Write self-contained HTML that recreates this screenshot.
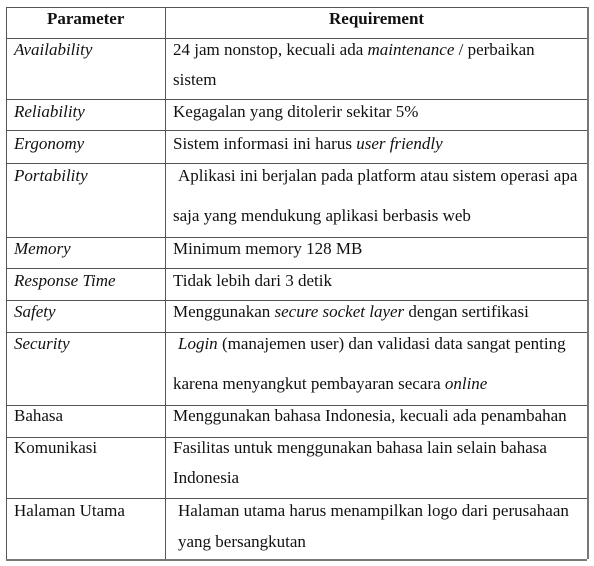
<!DOCTYPE html>
<html><head><meta charset="utf-8"><style>
body{margin:0;width:594px;height:566px;background:#fff;position:relative;overflow:hidden;font-family:"Liberation Serif",serif;font-size:17px;color:#111}
.h{position:absolute;background:#555;height:1px;left:6px;width:581px}
.v{position:absolute;background:#555;width:1px;top:7px;height:552px}
.t{position:absolute;white-space:nowrap;line-height:20px}
b{font-weight:bold;font-size:17px}
</style></head><body>
<div class="h" style="top:7px"></div>
<div class="h" style="top:38px"></div>
<div class="h" style="top:99px"></div>
<div class="h" style="top:130px"></div>
<div class="h" style="top:163px"></div>
<div class="h" style="top:237px"></div>
<div class="h" style="top:268px"></div>
<div class="h" style="top:300px"></div>
<div class="h" style="top:332px"></div>
<div class="h" style="top:405px"></div>
<div class="h" style="top:437px"></div>
<div class="h" style="top:498px"></div>
<div class="h" style="top:559px;height:2px;background:#777"></div>
<div class="v" style="left:6px"></div>
<div class="v" style="left:165px"></div>
<div class="v" style="left:587px;width:2px;background:#777"></div>

<div class="t" style="left:47px;top:9px"><b>Parameter</b></div>
<div class="t" style="left:329px;top:9px"><b>Requirement</b></div>

<div class="t" style="left:14px;top:40px"><i>Availability</i></div>
<div class="t" style="left:173px;top:40px">24 jam nonstop, kecuali ada <i>maintenance</i> / perbaikan</div>
<div class="t" style="left:173px;top:70px">sistem</div>

<div class="t" style="left:14px;top:102px"><i>Reliability</i></div>
<div class="t" style="left:173px;top:102px">Kegagalan yang ditolerir sekitar 5%</div>

<div class="t" style="left:14px;top:134px"><i>Ergonomy</i></div>
<div class="t" style="left:173px;top:134px">Sistem informasi ini harus <i>user friendly</i></div>

<div class="t" style="left:14px;top:166px"><i>Portability</i></div>
<div class="t" style="left:178px;top:166px">Aplikasi ini berjalan pada platform atau sistem operasi apa</div>
<div class="t" style="left:173px;top:206px">saja yang mendukung aplikasi berbasis web</div>

<div class="t" style="left:14px;top:239px"><i>Memory</i></div>
<div class="t" style="left:173px;top:239px">Minimum memory 128 MB</div>

<div class="t" style="left:14px;top:271px"><i>Response Time</i></div>
<div class="t" style="left:173px;top:271px">Tidak lebih dari 3 detik</div>

<div class="t" style="left:14px;top:302px"><i>Safety</i></div>
<div class="t" style="left:173px;top:302px">Menggunakan <i>secure socket layer</i> dengan sertifikasi</div>

<div class="t" style="left:14px;top:334px"><i>Security</i></div>
<div class="t" style="left:178px;top:334px"><i>Login</i> (manajemen user) dan validasi data sangat penting</div>
<div class="t" style="left:173px;top:374px">karena menyangkut pembayaran secara <i>online</i></div>

<div class="t" style="left:14px;top:406px">Bahasa</div>
<div class="t" style="left:173px;top:406px">Menggunakan bahasa Indonesia, kecuali ada penambahan</div>

<div class="t" style="left:14px;top:438px">Komunikasi</div>
<div class="t" style="left:173px;top:438px">Fasilitas untuk menggunakan bahasa lain selain bahasa</div>
<div class="t" style="left:173px;top:468px">Indonesia</div>

<div class="t" style="left:14px;top:501px">Halaman Utama</div>
<div class="t" style="left:178px;top:501px">Halaman utama harus menampilkan logo dari perusahaan</div>
<div class="t" style="left:178px;top:532px">yang bersangkutan</div>
</body></html>
